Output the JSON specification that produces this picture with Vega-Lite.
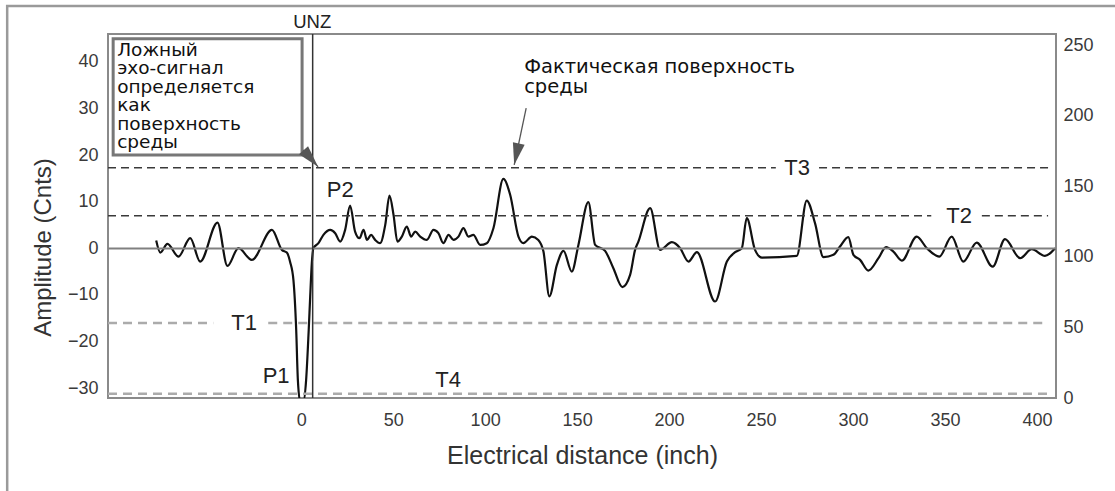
{
  "$schema": "https://vega.github.io/schema/vega-lite/v6.json",
  "width": 948,
  "height": 364,
  "autosize": {"type": "none"},
  "padding": {"left": 108, "top": 34, "right": 59, "bottom": 93},
  "background": "white",
  "config": {
    "view": {"stroke": "#8a8a8a", "strokeWidth": 2},
    "font": "Liberation Sans",
    "axis": {
      "grid": false, "ticks": false, "domain": false,
      "labelFont": "Liberation Sans", "labelFontSize": 18, "labelColor": "#3a3a3a",
      "titleFont": "Liberation Sans", "titleFontSize": 24, "titleFontWeight": "normal", "titleColor": "#333"
    }
  },
  "datasets": {
    "wave": [
      {"d": -78.8, "a": 1.67}, {"d": -76.6, "a": -0.9}, {"d": -72.7, "a": 0.97}, {"d": -66.7, "a": -1.76},
      {"d": -60.3, "a": 2.19}, {"d": -54.9, "a": -2.83}, {"d": -45.5, "a": 5.54}, {"d": -40.1, "a": -3.76},
      {"d": -34.1, "a": 0.04}, {"d": -26.8, "a": -2.47}, {"d": -15.9, "a": 3.97}, {"d": -10.5, "a": -0.32},
      {"d": -7.8, "a": -0.9}, {"d": -6.0, "a": -2.9}, {"d": -4.2, "a": -6.8}, {"d": -2.7, "a": -17.5},
      {"d": -1.8, "a": -28.2}, {"d": -0.5, "a": -33}, {"d": 1.1, "a": -33}, {"d": 2.7, "a": -28.2},
      {"d": 4.1, "a": -17.5}, {"d": 4.9, "a": -10.4}, {"d": 5.8, "a": -3.1}, {"d": 6.7, "a": 0.1},
      {"d": 9.4, "a": 1.12}, {"d": 12.1, "a": 2.9}, {"d": 15.8, "a": 3.97}, {"d": 18.5, "a": 3.26},
      {"d": 21.2, "a": 1.46}, {"d": 23.9, "a": 3.97}, {"d": 26.6, "a": 9.18}, {"d": 29.3, "a": 3.61},
      {"d": 31.7, "a": 2.19}, {"d": 33.9, "a": 3.97}, {"d": 35.8, "a": 1.82}, {"d": 38.0, "a": 2.9},
      {"d": 40.2, "a": 1.82}, {"d": 42.9, "a": 1.12}, {"d": 45.7, "a": 5.04}, {"d": 48.0, "a": 11.33},
      {"d": 50.2, "a": 7.19}, {"d": 52.3, "a": 1.46}, {"d": 54.7, "a": 2.53}, {"d": 57.4, "a": 4.68},
      {"d": 59.8, "a": 2.53}, {"d": 62.0, "a": 3.61}, {"d": 64.7, "a": 2.53}, {"d": 68.3, "a": 1.82},
      {"d": 71.9, "a": 3.97}, {"d": 74.6, "a": 3.26}, {"d": 77.3, "a": 1.12}, {"d": 80.1, "a": 2.9},
      {"d": 82.8, "a": 1.82}, {"d": 85.5, "a": 2.53}, {"d": 88.2, "a": 4.33}, {"d": 90.9, "a": 2.53},
      {"d": 93.6, "a": 2.9}, {"d": 97.3, "a": 0.75}, {"d": 100.9, "a": 1.12}, {"d": 104.5, "a": 4.33},
      {"d": 109.9, "a": 14.9}, {"d": 113.6, "a": 11.5}, {"d": 118.1, "a": 2.53}, {"d": 120.8, "a": 1.12},
      {"d": 125.4, "a": 2.53}, {"d": 128.9, "a": 1.82}, {"d": 131.7, "a": -0.69}, {"d": 134.9, "a": -10.3},
      {"d": 139.0, "a": -3.54}, {"d": 142.6, "a": -0.54}, {"d": 147.1, "a": -4.98}, {"d": 150.7, "a": 0.75},
      {"d": 156.1, "a": 9.91}, {"d": 159.8, "a": 0.75}, {"d": 165.2, "a": -0.54}, {"d": 169.7, "a": -4.25},
      {"d": 174.6, "a": -8.3}, {"d": 178.8, "a": -5.69}, {"d": 181.5, "a": -0.32}, {"d": 183.3, "a": 1.46},
      {"d": 189.7, "a": 8.63}, {"d": 195.1, "a": -0.32}, {"d": 201.5, "a": 1.33}, {"d": 206.0, "a": 0.04},
      {"d": 210.5, "a": -2.83}, {"d": 215.1, "a": -0.82}, {"d": 225.0, "a": -11.4}, {"d": 231.4, "a": -2.83},
      {"d": 235.9, "a": -0.82}, {"d": 239.5, "a": 0.04}, {"d": 242.2, "a": 6.48}, {"d": 246.7, "a": -0.32},
      {"d": 250.4, "a": -1.97}, {"d": 269.4, "a": -1.61}, {"d": 274.8, "a": 10.26}, {"d": 279.3, "a": 5.41},
      {"d": 283.9, "a": -1.89}, {"d": 289.3, "a": -1.39}, {"d": 292.9, "a": 0.39}, {"d": 297.4, "a": 2.4},
      {"d": 300.2, "a": -1.39}, {"d": 303.8, "a": -2.47}, {"d": 308.3, "a": -4.76}, {"d": 313.8, "a": -2.1},
      {"d": 317.9, "a": 0.26}, {"d": 321.9, "a": -0.69}, {"d": 326.5, "a": -2.62}, {"d": 334.6, "a": 2.53},
      {"d": 340.1, "a": 0.04}, {"d": 346.9, "a": -1.76}, {"d": 353.6, "a": 2.53}, {"d": 359.9, "a": -2.83},
      {"d": 367.2, "a": 1.24}, {"d": 375.9, "a": -3.91}, {"d": 382.6, "a": 1.97}, {"d": 390.8, "a": -2.1},
      {"d": 397.1, "a": -0.17}, {"d": 404.3, "a": -1.61}, {"d": 409.8, "a": 0.04}
    ],
    "darkThr": [
      {"name": "T3", "x1": -105, "x2": 258.0, "y": 17.3},
      {"name": "T3", "x1": 281.5, "x2": 406, "y": 17.3},
      {"name": "T2", "x1": -105, "x2": 342.5, "y": 7.0},
      {"name": "T2", "x1": 370, "x2": 406, "y": 7.0}
    ],
    "lightThr": [
      {"name": "T1", "x1": -105, "x2": -47.8, "y": -16.0},
      {"name": "T1", "x1": -17.9, "x2": 406, "y": -16.0},
      {"name": "T4", "x1": -105, "x2": 406, "y": -31.2}
    ],
    "zero": [{"x1": -105, "x2": 410.3, "y": 0}],
    "unz": [{"x": 6.25}],
    "unzLabel": [{"x": 6.0, "y": 48.6, "t": "UNZ"}],
    "labels": [
      {"x": 21.2, "y": 12.5, "t": "P2"},
      {"x": 269.6, "y": 17.3, "t": "T3"},
      {"x": 357.6, "y": 7.0, "t": "T2"},
      {"x": -31.0, "y": -16.0, "t": "T1"},
      {"x": -13.6, "y": -27.4, "t": "P1"},
      {"x": 79.9, "y": -28.2, "t": "T4"}
    ],
    "boxText": [
      {"x": -100, "y": 41.31, "t": "Ложный\nэхо-сигнал\nопределяется\nкак\nповерхность\nсреды"}
    ],
    "noteText": [
      {"x": 121.2, "y": 37.55, "t": "Фактическая поверхность\nсреды"}
    ],
    "box": [{"x1": -102.2, "x2": 0.5, "y1": 44.96, "y2": 20.06}],
    "frame": [{"x1": -159.8, "x2": 460, "y1": 52.0, "y2": -60}],
    "arrows": [
      {"x1": 1.1, "y1": 21.1, "x2": 9.2, "y2": 17.5, "ang": 138.6},
      {"x1": 122.3, "y1": 30.1, "x2": 115.8, "y2": 17.9, "ang": 192}
    ],
    "right": [{"r": 0}, {"r": 258}]
  },
  "resolve": {"scale": {"y": "independent"}, "axis": {"y": "independent"}},
  "layer": [
    {
      "layer": [
        {
          "data": {"name": "wave"},
          "mark": {"type": "line", "interpolate": "monotone", "stroke": "#111", "strokeWidth": 2.2, "clip": true},
          "encoding": {
            "x": {
              "field": "d", "type": "quantitative", "title": "Electrical distance (inch)",
              "scale": {"domain": [-105, 410.3], "nice": false, "zero": false},
              "axis": {"values": [0, 50, 100, 150, 200, 250, 300, 350, 400], "labelPadding": 13, "titlePadding": 14, "titleFontSize": 25}
            },
            "y": {
              "field": "a", "type": "quantitative", "title": "Amplitude (Cnts)",
              "scale": {"domain": [-32.1, 46.0], "nice": false, "zero": false},
              "axis": {"values": [-30, -20, -10, 0, 10, 20, 30, 40], "labelPadding": 10, "titlePadding": 12, "titleY": 213}
            }
          }
        },
        {
          "data": {"name": "frame"},
          "mark": {"type": "rect", "fill": null, "fillOpacity": 0, "stroke": "#9a9a9a", "strokeWidth": 2.5},
          "encoding": {
            "x": {"field": "x1", "type": "quantitative", "title": "Electrical distance (inch)"},
            "x2": {"field": "x2"},
            "y": {"field": "y1", "type": "quantitative", "title": "Amplitude (Cnts)"},
            "y2": {"field": "y2"}
          }
        },
        {
          "data": {"name": "zero"},
          "mark": {"type": "rule", "stroke": "#808080", "strokeWidth": 2},
          "encoding": {
            "x": {"field": "x1", "type": "quantitative", "title": "Electrical distance (inch)"},
            "x2": {"field": "x2"},
            "y": {"field": "y", "type": "quantitative", "title": "Amplitude (Cnts)"}
          }
        },
        {
          "data": {"name": "lightThr"},
          "mark": {"type": "rule", "stroke": "#ababab", "strokeWidth": 2.5, "strokeDash": [9, 6]},
          "encoding": {
            "x": {"field": "x1", "type": "quantitative", "title": "Electrical distance (inch)"},
            "x2": {"field": "x2"},
            "y": {"field": "y", "type": "quantitative", "title": "Amplitude (Cnts)"}
          }
        },
        {
          "data": {"name": "darkThr"},
          "mark": {"type": "rule", "stroke": "#3a3a3a", "strokeWidth": 1.3, "strokeDash": [8, 5]},
          "encoding": {
            "x": {"field": "x1", "type": "quantitative", "title": "Electrical distance (inch)"},
            "x2": {"field": "x2"},
            "y": {"field": "y", "type": "quantitative", "title": "Amplitude (Cnts)"}
          }
        },
        {
          "data": {"name": "unz"},
          "mark": {"type": "rule", "stroke": "#333", "strokeWidth": 1.5},
          "encoding": {
            "x": {"field": "x", "type": "quantitative", "title": "Electrical distance (inch)"}
          }
        },
        {
          "data": {"name": "box"},
          "mark": {"type": "rect", "fill": null, "fillOpacity": 0, "stroke": "#777", "strokeWidth": 3},
          "encoding": {
            "x": {"field": "x1", "type": "quantitative", "title": "Electrical distance (inch)"},
            "x2": {"field": "x2"},
            "y": {"field": "y1", "type": "quantitative", "title": "Amplitude (Cnts)"},
            "y2": {"field": "y2"}
          }
        },
        {
          "data": {"name": "arrows"},
          "mark": {"type": "rule", "stroke": "#555", "strokeWidth": 1.3},
          "encoding": {
            "x": {"field": "x1", "type": "quantitative", "title": "Electrical distance (inch)"},
            "y": {"field": "y1", "type": "quantitative", "title": "Amplitude (Cnts)"},
            "x2": {"field": "x2"},
            "y2": {"field": "y2"}
          }
        },
        {
          "data": {"name": "arrows"},
          "mark": {"type": "point", "shape": "M0,0L0.6,2.2L-0.6,2.2Z", "filled": true, "color": "#555", "opacity": 1, "size": 400},
          "encoding": {
            "x": {"field": "x2", "type": "quantitative", "title": "Electrical distance (inch)"},
            "y": {"field": "y2", "type": "quantitative", "title": "Amplitude (Cnts)"},
            "angle": {"field": "ang", "type": "quantitative", "scale": null}
          }
        },
        {
          "data": {"name": "unzLabel"},
          "mark": {"type": "text", "fontSize": 18.5, "color": "#222", "align": "center", "baseline": "middle"},
          "encoding": {
            "x": {"field": "x", "type": "quantitative", "title": "Electrical distance (inch)"},
            "y": {"field": "y", "type": "quantitative", "title": "Amplitude (Cnts)"},
            "text": {"field": "t"}
          }
        },
        {
          "data": {"name": "labels"},
          "mark": {"type": "text", "fontSize": 22, "color": "#222", "align": "center", "baseline": "middle"},
          "encoding": {
            "x": {"field": "x", "type": "quantitative", "title": "Electrical distance (inch)"},
            "y": {"field": "y", "type": "quantitative", "title": "Amplitude (Cnts)"},
            "text": {"field": "t"}
          }
        },
        {
          "data": {"name": "boxText"},
          "mark": {"type": "text", "font": "DejaVu Sans", "fontSize": 18.5, "color": "#111", "align": "left", "baseline": "alphabetic", "lineBreak": "\n", "lineHeight": 18.5},
          "encoding": {
            "x": {"field": "x", "type": "quantitative", "title": "Electrical distance (inch)"},
            "y": {"field": "y", "type": "quantitative", "title": "Amplitude (Cnts)"},
            "text": {"field": "t"}
          }
        },
        {
          "data": {"name": "noteText"},
          "mark": {"type": "text", "font": "DejaVu Sans", "fontSize": 19.5, "color": "#111", "align": "left", "baseline": "alphabetic", "lineBreak": "\n", "lineHeight": 20},
          "encoding": {
            "x": {"field": "x", "type": "quantitative", "title": "Electrical distance (inch)"},
            "y": {"field": "y", "type": "quantitative", "title": "Amplitude (Cnts)"},
            "text": {"field": "t"}
          }
        }
      ]
    },
    {
      "data": {"name": "right"},
      "mark": {"type": "point", "opacity": 0},
      "encoding": {
        "y": {
          "field": "r", "type": "quantitative", "title": null,
          "scale": {"domain": [0, 257.8], "nice": false, "zero": false},
          "axis": {"orient": "right", "values": [0, 50, 100, 150, 200, 250], "labelPadding": 7}
        }
      }
    }
  ]
}
